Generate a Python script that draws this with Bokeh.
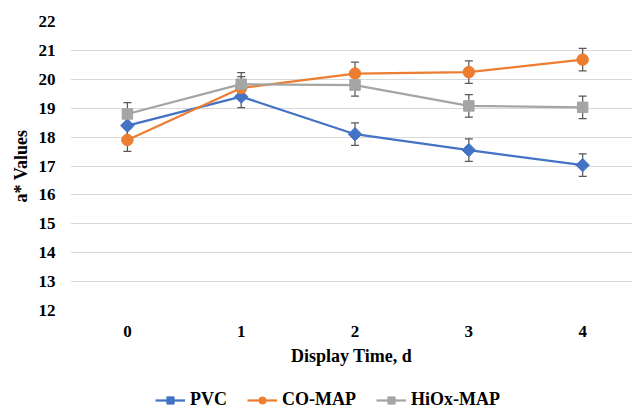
from bokeh.plotting import figure
from bokeh.layouts import column
from bokeh.models import ColumnDataSource, Whisker, TeeHead, Legend, LegendItem, Range1d, FixedTicker
from bokeh.embed import file_html
from bokeh.resources import INLINE

days = [0, 1, 2, 3, 4]
pvc = [18.40, 19.40, 18.10, 17.55, 17.03]
pvc_err = [0.38, 0.38, 0.39, 0.39, 0.39]
co_map = [17.90, 19.70, 20.20, 20.25, 20.68]
co_err = [0.39, 0.39, 0.39, 0.39, 0.39]
hiox_map = [18.80, 19.83, 19.80, 19.08, 19.03]
hiox_err = [0.39, 0.40, 0.38, 0.39, 0.39]
series_names = ["PVC", "CO-MAP", "HiOx-MAP"]
y_ticks = list(range(12, 23))

FONT = "Liberation Serif"
colors = ["#4472C4", "#ED7D31", "#A5A5A5"]
markers = ["diamond", "circle", "square"]

p = figure(width=632, height=375, min_border_left=70, min_border_right=0,
           min_border_top=21, min_border_bottom=65,
           x_range=Range1d(-0.5, 4.438), y_range=Range1d(12, 22),
           output_backend="svg", toolbar_location=None)
p.outline_line_color = None
p.xgrid.grid_line_color = None
p.ygrid.grid_line_color = "#D9D9D9"
p.ygrid.grid_line_width = 1
p.ygrid.ticker = FixedTicker(ticks=y_ticks)

p.xaxis.ticker = FixedTicker(ticks=days)
p.yaxis.ticker = FixedTicker(ticks=y_ticks)
for ax in (p.xaxis, p.yaxis):
    ax.axis_line_color = None
    ax.major_tick_line_color = None
    ax.minor_tick_line_color = None
    ax.major_tick_out = 0
    ax.major_tick_in = 0
    ax.major_label_text_font = FONT
    ax.major_label_text_font_style = "bold"
    ax.major_label_text_font_size = "17px"
    ax.major_label_text_color = "#000000"
    ax.axis_label_text_font = FONT
    ax.axis_label_text_font_style = "bold"
    ax.axis_label_text_font_size = "18px"
    ax.axis_label_text_color = "#000000"
p.xaxis.axis_label = "Display Time, d"
p.yaxis.axis_label = "a* Values"
p.xaxis.major_label_standoff = 15
p.xaxis.axis_label_standoff = 6
p.yaxis.major_label_standoff = 15
p.yaxis.axis_label_standoff = 5


def marker_kwargs(kind, color):
    if kind == "diamond":
        return dict(marker="square", angle=0.7853981634, size=9.5, fill_color=color, line_color=color)
    if kind == "circle":
        return dict(marker="circle", size=11.5, fill_color=color, line_color=color)
    return dict(marker="square", size=10.5, fill_color=color, line_color=color)


data = [(pvc, pvc_err), (co_map, co_err), (hiox_map, hiox_err)]
for (vals, errs), color, kind in zip(data, colors, markers):
    src = ColumnDataSource(dict(x=days, y=vals,
                                lo=[v - e for v, e in zip(vals, errs)],
                                hi=[v + e for v, e in zip(vals, errs)]))
    w = Whisker(source=src, base="x", lower="lo", upper="hi",
                line_color="#595959", line_width=1.25, level="underlay",
                upper_head=TeeHead(size=8, line_color="#595959", line_width=1.25),
                lower_head=TeeHead(size=8, line_color="#595959", line_width=1.25))
    p.add_layout(w)
    p.line("x", "y", source=src, line_color=color, line_width=2.25)
    p.scatter("x", "y", source=src, **marker_kwargs(kind, color))

# legend strip below the chart
lf = figure(width=632, height=34, min_border=0, x_range=Range1d(0, 1), y_range=Range1d(0, 1),
            output_backend="svg", toolbar_location=None)
lf.outline_line_color = None
lf.axis.visible = False
lf.grid.visible = False
items = []
for name, color, kind in zip(series_names, colors, markers):
    dummy = ColumnDataSource(dict(x=[-10, -9], y=[-10, -10]))
    ln = lf.line("x", "y", source=dummy, line_color=color, line_width=2.25)
    mk = lf.scatter("x", "y", source=dummy, **marker_kwargs(kind, color))
    items.append(LegendItem(label=name, renderers=[ln, mk]))

legend = Legend(items=items, orientation="horizontal", location=(85, -1),
                label_text_font=FONT, label_text_font_style="bold",
                label_text_font_size="18px", label_text_color="#000000",
                glyph_width=30, glyph_height=18, label_standoff=5, spacing=20,
                border_line_color=None, background_fill_alpha=0,
                padding=0, margin=0)
lf.add_layout(legend, "center")

layout = column(p, lf, spacing=0)
open("out.html", "w").write(file_html(layout, INLINE))
